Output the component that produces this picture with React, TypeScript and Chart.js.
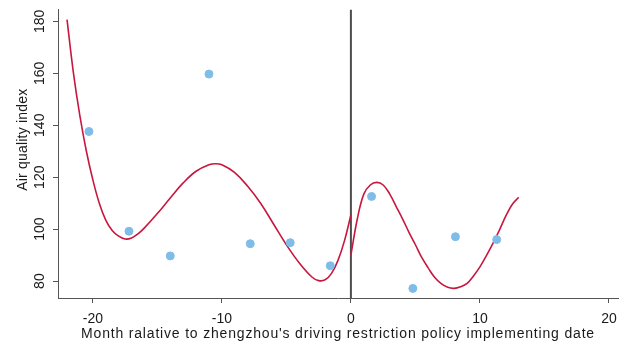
import React, { useEffect, useRef } from "react";
import { Chart, registerables } from "chart.js";

Chart.register(...registerables);

// Scatter: month relative to policy date vs. air quality index
const monthX = [-20.3, -17.2, -14.0, -11.0, -7.8, -4.7, -1.6, 1.6, 4.8, 8.1, 11.3];
const aqiY = [137.6, 99.2, 89.7, 159.7, 94.4, 94.8, 85.9, 112.6, 77.2, 97.1, 96.0];

// Fitted curve before the policy
const fitBeforeX = [-22, -21.5, -21, -20.5, -20, -19.5, -19, -18.5, -18, -17.5, -17, -16.5, -16, -15, -14, -13, -12, -11, -10.5, -10, -9, -8, -7, -6, -5, -4, -3, -2.5, -2, -1.5, -1, -0.5, 0];
const fitBeforeY = [180.7, 160.0, 143.5, 130.0, 119.0, 110.0, 103.5, 99.5, 97.3, 96.2, 96.6, 98.2, 100.5, 106.0, 112.0, 117.8, 122.3, 124.8, 125.2, 124.8, 121.8, 116.5, 110.0, 102.0, 94.0, 87.0, 81.5, 80.2, 80.5, 83.0, 88.0, 95.5, 105.5];

// Fitted curve after the policy
const fitAfterX = [0, 0.5, 1, 1.5, 2, 2.5, 3, 3.5, 4, 4.5, 5, 5.5, 6, 6.5, 7, 7.5, 8, 8.5, 9, 9.5, 10, 10.5, 11, 11.5, 12, 12.5, 13];
const fitAfterY = [90.0, 104.0, 113.5, 117.0, 118.0, 117.0, 113.6, 108.8, 104.0, 98.8, 94.0, 89.0, 85.0, 81.4, 79.0, 77.6, 77.2, 77.8, 79.1, 82.0, 85.5, 89.8, 94.4, 99.5, 105.0, 109.5, 112.3];

const xTicks = [-20, -10, 0, 10, 20];
const yTicks = [80, 100, 120, 140, 160, 180];
const xRange = [-22.7, 20.7];
const yRange = [73.5, 184.6];
const policyX = 0;

const xTitle = "Month ralative to zhengzhou's driving restriction policy implementing date";
const yTitle = "Air quality index";

const zip = (xs: number[], ys: number[]) => xs.map((x, i) => ({ x, y: ys[i] }));

function wrapTitle(s: any, spacing: string, dy: number) {
  if (s.__wrapped) return;
  s.__wrapped = true;
  const orig = s.drawTitle.bind(s);
  s.drawTitle = () => {
    const ctx = s.ctx;
    ctx.save();
    (ctx as any).letterSpacing = spacing;
    ctx.translate(0, dy);
    orig();
    ctx.restore();
  };
}

export default function App() {
  const ref = useRef<HTMLCanvasElement | null>(null);
  useEffect(() => {
    if (!ref.current) return;
    const axisColor = "#555555";
    const textColor = "#1a1a1a";
    const font = { family: "'Liberation Sans', Arial, sans-serif", size: 14 };
    const chart = new Chart(ref.current, {
      type: "scatter",
      data: {
        datasets: [
          {
            type: "scatter",
            data: zip(monthX, aqiY),
            backgroundColor: "#7fbde9",
            borderColor: "#7fbde9",
            pointRadius: 4,
            order: 0,
          },
          {
            type: "line",
            data: zip(fitBeforeX, fitBeforeY),
            borderColor: "#c8173f",
            borderWidth: 1.6,
            pointRadius: 0,
            tension: 0.4,
            fill: false,
            order: 1,
          },
          {
            type: "line",
            data: zip(fitAfterX, fitAfterY),
            borderColor: "#c8173f",
            borderWidth: 1.6,
            pointRadius: 0,
            tension: 0.4,
            fill: false,
            order: 1,
          },
          {
            type: "line",
            data: [
              { x: policyX, y: yRange[0] },
              { x: policyX, y: yRange[1] },
            ],
            borderColor: "#4d4d4d",
            borderWidth: 2,
            pointRadius: 0,
            fill: false,
            order: 3,
          },
        ],
      },
      options: {
        animation: false,
        responsive: false,
        layout: { padding: { left: 0, top: 8, right: 8, bottom: 0 } },
        plugins: { legend: { display: false }, tooltip: { enabled: false } },
        scales: {
          x: {
            type: "linear",
            min: xRange[0],
            max: xRange[1],
            afterBuildTicks: (s: any) => {
              s.ticks = xTicks.map((v) => ({ value: v }));
            },
            afterFit: (s: any) => {
              s.height = 47;
              wrapTitle(s, "0.82px", 0);
            },
            border: { display: true, color: axisColor, width: 1 },
            grid: { display: true, drawOnChartArea: false, drawTicks: true, tickLength: 5, color: axisColor },
            ticks: { color: textColor, font, padding: 7.5, maxRotation: 0, minRotation: 0 },
            title: { display: true, text: xTitle, color: textColor, font, padding: { top: 0, bottom: 2.5 } },
          },
          y: {
            type: "linear",
            min: yRange[0],
            max: yRange[1],
            afterBuildTicks: (s: any) => {
              s.ticks = yTicks.map((v) => ({ value: v }));
            },
            afterFit: (s: any) => {
              s.width = 58;
              wrapTitle(s, "0.2px", -14);
            },
            border: { display: true, color: axisColor, width: 1 },
            grid: { display: true, drawOnChartArea: false, drawTicks: true, tickLength: 5, color: axisColor },
            ticks: { color: textColor, font, padding: 1, minRotation: 90, maxRotation: 90, crossAlign: "center" },
            title: { display: true, text: yTitle, color: textColor, font, padding: { top: 15, bottom: 0 } },
          },
        },
      },
    } as any);
    return () => chart.destroy();
  }, []);
  return (
    <div style={{ position: "absolute", left: 0, top: 0, width: 626, height: 345, background: "#fff" }}>
      <canvas ref={ref} width={626} height={345} />
    </div>
  );
}
